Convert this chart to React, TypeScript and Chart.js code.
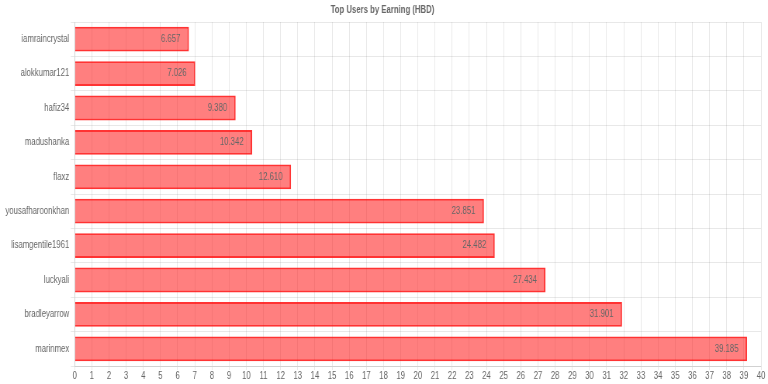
import React, { useEffect, useRef } from "react";
import { Chart, registerables } from "chart.js";

Chart.register(...registerables);

const categories = [
  "iamraincrystal",
  "alokkumar121",
  "hafiz34",
  "madushanka",
  "flaxz",
  "yousafharoonkhan",
  "lisamgentile1961",
  "luckyali",
  "bradleyarrow",
  "marinmex",
];
const earnings = [6.657, 7.026, 9.38, 10.342, 12.61, 23.851, 24.482, 27.434, 31.901, 39.185];
const titleText = "Top Users by Earning (HBD)";

const FONT = "Arial, 'Liberation Sans', sans-serif";
const DRAW_W = 990;
const VIEW_W = 768;
const VIEW_H = 384;

const valueLabels = {
  id: "valueLabels",
  afterDatasetsDraw(chart: any) {
    const ctx = chart.ctx;
    const meta = chart.getDatasetMeta(0);
    ctx.save();
    ctx.font = "10px " + FONT;
    ctx.fillStyle = "#666";
    ctx.textAlign = "right";
    ctx.textBaseline = "middle";
    meta.data.forEach((el: any, i: number) => {
      const v = chart.data.datasets[0].data[i] as number;
      ctx.fillText(v.toFixed(3), el.x - 11, el.y);
    });
    ctx.restore();
  },
};

export default function App() {
  const ref = useRef<HTMLCanvasElement | null>(null);
  useEffect(() => {
    if (!ref.current) return;
    const chart = new Chart(ref.current, {
      type: "bar",
      data: {
        labels: categories,
        datasets: [
          {
            label: "Earning",
            data: earnings,
            backgroundColor: "rgba(255, 0, 0, 0.5)",
            borderColor: "rgba(255, 0, 0, 0.8)",
            borderWidth: 2,
          },
        ],
      },
      options: {
        indexAxis: "y",
        animation: false,
        responsive: false,
        maintainAspectRatio: false,
        layout: { padding: { left: 5, right: 9, top: 0, bottom: 2 } },
        font: { family: FONT, size: 10 } as any,
        plugins: {
          legend: { display: false },
          tooltip: { enabled: false },
          title: {
            display: true,
            text: titleText,
            color: "#666",
            font: { size: 10, weight: "bold", family: FONT },
            padding: { top: 4, bottom: 6 },
          },
        },
        scales: {
          x: {
            min: 0,
            max: 40,
            ticks: {
              stepSize: 1,
              autoSkip: false,
              maxRotation: 0,
              minRotation: 0,
              color: "#666",
              font: { size: 10, family: FONT },
              padding: 0,
            },
            grid: { color: "rgba(0,0,0,0.09)", tickLength: 4 },
          },
          y: {
            ticks: { color: "#666", font: { size: 10, family: FONT }, padding: 2 },
            grid: { color: "rgba(0,0,0,0.09)", tickLength: 5 },
          },
        },
      },
      plugins: [valueLabels],
    });
    return () => chart.destroy();
  }, []);
  return (
    <div style={{ position: "fixed", left: 0, top: 0, width: VIEW_W, height: VIEW_H, background: "#fff" }}>
      <canvas ref={ref} width={DRAW_W} height={VIEW_H} style={{ width: VIEW_W, height: VIEW_H, display: "block" }} />
    </div>
  );
}
